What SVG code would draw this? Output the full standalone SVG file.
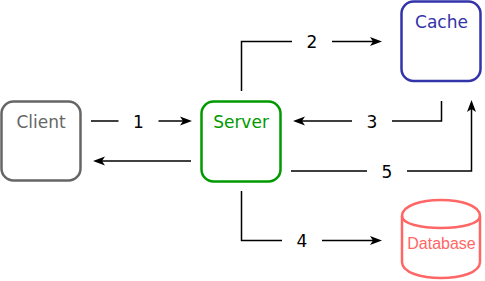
<svg xmlns="http://www.w3.org/2000/svg" width="485" height="281" viewBox="0 0 485 281">
<style>
.box{fill:#fff;stroke-width:2.5}
.nt{font-family:"DejaVu Sans",Verdana,sans-serif;font-size:17px;text-anchor:middle}
.edge{fill:none;stroke:#000;stroke-width:1.5}
.lbl{font-family:"DejaVu Sans",Verdana,sans-serif;font-size:17px;text-anchor:middle;fill:#000}
.lbg{fill:#fff}
</style>
<defs>
<marker id="arr" markerUnits="userSpaceOnUse" viewBox="0 -6 13 12" markerWidth="13" markerHeight="12" refX="3" refY="0" orient="auto">
<path d="M0,-4.5 L12,0 L0,4.5 L3,0 Z" fill="#000"/>
</marker>
</defs>
<rect width="485" height="281" fill="#fff"/>
<g id="connectors">
<g id="e1"><path class="edge" d="M91,121 L183,121" marker-end="url(#arr)"/><rect class="lbg" x="118.5" y="111" width="40" height="20"/><text class="lbl" x="138.5" y="127.5">1</text></g>
<g id="e1r"><path class="edge" d="M191,161 L102,161" marker-end="url(#arr)"/></g>
<g id="e2"><path class="edge" d="M241.5,91 L241.5,41.5 L373,41.5" marker-end="url(#arr)"/><rect class="lbg" x="292" y="31.5" width="40" height="20"/><text class="lbl" x="312" y="48">2</text></g>
<g id="e3"><path class="edge" d="M441.5,101 L441.5,121 L302,121" marker-end="url(#arr)"/><rect class="lbg" x="352" y="111" width="40" height="20"/><text class="lbl" x="372" y="127.5">3</text></g>
<g id="e5"><path class="edge" d="M291,171 L471.5,171 L471.5,109" marker-end="url(#arr)"/><rect class="lbg" x="367" y="161" width="40" height="20"/><text class="lbl" x="387" y="177.5">5</text></g>
<g id="e4"><path class="edge" d="M241.5,191 L241.5,240.5 L373,240.5" marker-end="url(#arr)"/><rect class="lbg" x="282" y="230.5" width="40" height="20"/><text class="lbl" x="302" y="247">4</text></g>
</g>
<g id="client"><rect class="box" x="1.5" y="101.5" width="79" height="79" rx="12" stroke="#666666"/><text class="nt" x="41" y="128" fill="#666666">Client</text></g>
<g id="server"><rect class="box" x="201.5" y="101.5" width="79" height="80" rx="12" stroke="#009900"/><text class="nt" x="241" y="128" fill="#009900">Server</text></g>
<g id="cache"><rect class="box" x="401.5" y="1.5" width="79" height="79.5" rx="12" stroke="#3333AA"/><text class="nt" x="441.5" y="28" fill="#3333AA">Cache</text></g>
<g id="database"><path d="M402,216 C402,194.7 480,194.7 480,216 L480,262 C480,283.3 402,283.3 402,262 Z" fill="#fff" stroke="#FF6666" stroke-width="2.5"/><path d="M402,216 C402,232 480,232 480,216" fill="none" stroke="#FF6666" stroke-width="2.5"/><text x="441.5" y="249" font-family="'Liberation Sans',Arial,sans-serif" font-size="16" text-anchor="middle" fill="#FF6666">Database</text></g>
</svg>
